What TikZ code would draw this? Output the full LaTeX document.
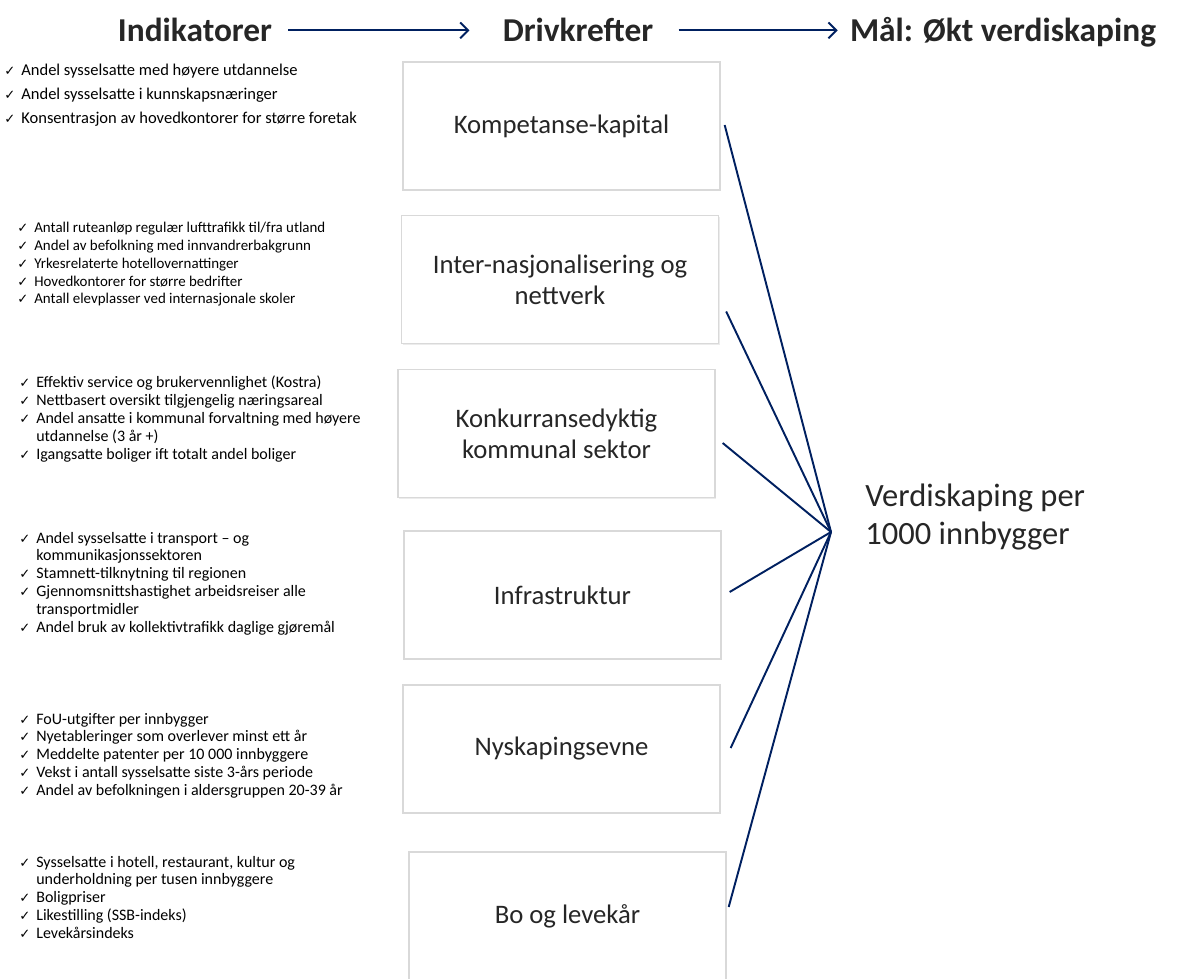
\documentclass[tikz,border=0pt]{standalone}
\usepackage{fontspec}
\setmainfont{Carlito}
\newfontfamily\checkfont{DejaVu Sans}
\usetikzlibrary{arrows.meta, shadows}

\definecolor{navy}{HTML}{002060}
\definecolor{txtgray}{HTML}{262626}
\definecolor{boxline}{HTML}{D9D9D9}

% hake og innrykk i indikatorlistene
\newcommand{\ck}{\makebox[0.34cm][l]{\checkfont\fontsize{7.5}{7.5}\selectfont ✓}}
\newcommand{\ckin}{\hspace{0.34cm}}

\tikzset{
  head/.style={font=\bfseries\fontsize{19}{21}\selectfont, text=txtgray, inner sep=0pt},
  drvbox/.style={draw=boxline, line width=0.8pt, fill=white, minimum width=6.34cm,
    minimum height=2.56cm, align=center, text=txtgray, font=\fontsize{15.2}{17.5}\selectfont,
    drop shadow={shadow xshift=0.6pt, shadow yshift=-0.6pt, opacity=0.15}},
  indlist/.style={anchor=base west, inner sep=0pt, text=black, font=\fontsize{9.1}{10.2}\selectfont},
  link/.style={navy, line width=1.1pt},
  flow/.style={navy, line width=1.1pt, -{Straight Barb[length=4.5pt, width=9pt]}}
}

\begin{document}
\begin{tikzpicture}[x=0.02cm, y=-0.02cm]
  \useasboundingbox (0,0) rectangle (1182,979);

  % overskrifter
  \node[head, anchor=base] (ind) at (195,42) {Indikatorer};
  \node[head, anchor=base] (drv) at (578,42) {Drivkrefter};
  \node[head, anchor=base] (maal) at (1003,42) {Mål: Økt verdiskaping};
  \draw[flow] ([xshift=0.32cm]ind.east) -- ([xshift=-0.66cm]ind.east -| drv.west);
  \draw[flow] ([xshift=0.5cm]drv.east) -- ([xshift=-0.24cm]drv.east -| maal.west);

  % drivkrefter
  \node[drvbox] (k1) at (561.5,126) {Kompetanse-kapital};
  \node[drvbox] (k2) at (560,279.5) {Inter-nasjonalisering og\\nettverk};
  \node[drvbox] (k3) at (556.5,433.5) {Konkurransedyktig\\kommunal sektor};
  \node[drvbox] (k4) at (562.5,595) {Infrastruktur};
  \node[drvbox] (k5) at (561.5,749) {Nyskapingsevne};
  \node[drvbox] (k6) at (567.5,916) {Bo og levekår};

  % mål
  \coordinate (hub) at (831,532);
  \node[anchor=base west, inner sep=0pt, align=left, text=txtgray,
        font=\fontsize{18.5}{21.5}\selectfont] (goal) at (865,544)
        {Verdiskaping per\\1000 innbygger};

  \draw[link] ([shift={(4,-1)}]k1.east) -- (hub);
  \draw[link] ([shift={(7,32)}]k2.east) -- (hub);
  \draw[link] ([shift={(7,9.5)}]k3.east) -- (hub);
  \draw[link] ([shift={(8,-3)}]k4.east) -- (hub);
  \draw[link] ([shift={(10,-1)}]k5.east) -- (hub);
  \draw[link] ([shift={(2,-9)}]k6.east) -- (hub);

  % indikatorer
  \node[indlist, font=\fontsize{9.4}{13.4}\selectfont] (l1) at (4,76) {\begin{tabular}[t]{@{}l@{}}
    \ck Andel sysselsatte med høyere utdannelse\\
    \ck Andel sysselsatte i kunnskapsnæringer\\
    \ck Konsentrasjon av hovedkontorer for større foretak
  \end{tabular}};
  \node[indlist, font=\fontsize{8.5}{10.1}\selectfont] (l2) at (17,233) {\begin{tabular}[t]{@{}l@{}}
    \ck Antall ruteanløp regulær lufttrafikk til/fra utland\\
    \ck Andel av befolkning med innvandrerbakgrunn\\
    \ck Yrkesrelaterte hotellovernattinger\\
    \ck Hovedkontorer for større bedrifter\\
    \ck Antall elevplasser ved internasjonale skoler
  \end{tabular}};
  \node[indlist] (l3) at (19,388) {\begin{tabular}[t]{@{}l@{}}
    \ck Effektiv service og brukervennlighet (Kostra)\\
    \ck Nettbasert oversikt tilgjengelig næringsareal\\
    \ck Andel ansatte i kommunal forvaltning med høyere\\
    \ckin utdannelse (3 år +)\\
    \ck Igangsatte boliger ift totalt andel boliger
  \end{tabular}};
  \node[indlist] (l4) at (19,543) {\begin{tabular}[t]{@{}l@{}}
    \ck Andel sysselsatte i transport – og\\
    \ckin kommunikasjonssektoren\\
    \ck Stamnett-tilknytning til regionen\\
    \ck Gjennomsnittshastighet arbeidsreiser alle\\
    \ckin transportmidler\\
    \ck Andel bruk av kollektivtrafikk daglige gjøremål
  \end{tabular}};
  \node[indlist] (l5) at (19,724) {\begin{tabular}[t]{@{}l@{}}
    \ck FoU-utgifter per innbygger\\
    \ck Nyetableringer som overlever minst ett år\\
    \ck Meddelte patenter per 10 000 innbyggere\\
    \ck Vekst i antall sysselsatte siste 3-års periode\\
    \ck Andel av befolkningen i aldersgruppen 20-39 år
  \end{tabular}};
  \node[indlist] (l6) at (19,867) {\begin{tabular}[t]{@{}l@{}}
    \ck Sysselsatte i hotell, restaurant, kultur og\\
    \ckin underholdning per tusen innbyggere\\
    \ck Boligpriser\\
    \ck Likestilling (SSB-indeks)\\
    \ck Levekårsindeks
  \end{tabular}};
\end{tikzpicture}
\end{document}
